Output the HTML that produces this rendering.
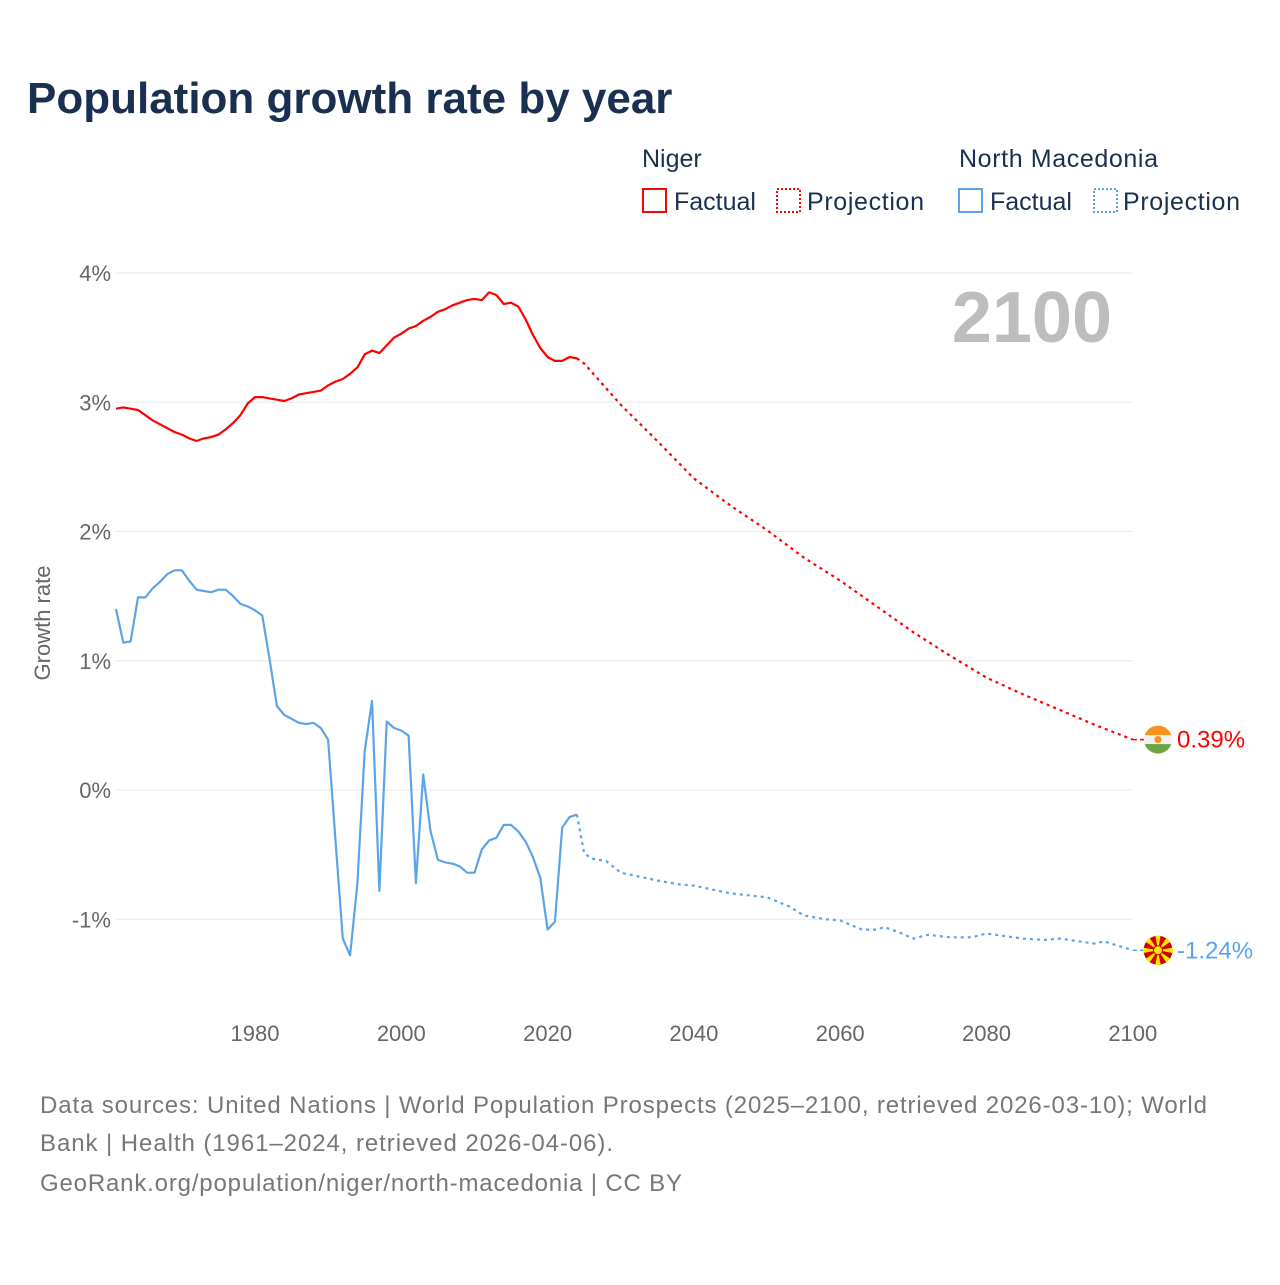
<!DOCTYPE html>
<html><head><meta charset="utf-8"><style>
body{margin:0;background:#fff;width:1280px;height:1280px;overflow:hidden;font-family:"Liberation Sans",sans-serif}
</style></head><body>
<svg width="1280" height="1280" xmlns="http://www.w3.org/2000/svg" id="svg" font-family="Liberation Sans, sans-serif">
<text x="27" y="113" font-size="44" font-weight="bold" fill="#1b3050">Population growth rate by year</text>
<g font-size="25" fill="#1b3050">
<text x="642" y="167">Niger</text>
<text x="959" y="167" textLength="199">North Macedonia</text>
<rect x="643" y="189" width="23" height="23" fill="none" stroke="#ff0000" stroke-width="2"/>
<text x="674" y="210">Factual</text>
<rect x="777" y="189" width="23" height="23" fill="none" stroke="#ff0000" stroke-width="2" stroke-dasharray="2,2"/>
<text x="807" y="210" textLength="117">Projection</text>
<rect x="959" y="189" width="23" height="23" fill="none" stroke="#5ba4e8" stroke-width="2"/>
<text x="990" y="210">Factual</text>
<rect x="1094" y="189" width="23" height="23" fill="none" stroke="#5ba4e8" stroke-width="2" stroke-dasharray="2,2"/>
<text x="1123" y="210" textLength="117">Projection</text>
</g>
<text x="1112" y="342" font-size="72" font-weight="bold" fill="#bdbdbd" text-anchor="end">2100</text>
<text transform="translate(50,623) rotate(-90)" font-size="22" fill="#666" text-anchor="middle">Growth rate</text>
<g id="grid"></g><g id="marks"></g>
<g font-size="24" fill="#777">
<text x="40" y="1113" textLength="1167">Data sources: United Nations | World Population Prospects (2025–2100, retrieved 2026-03-10); World</text>
<text x="40" y="1151" textLength="573">Bank | Health (1961–2024, retrieved 2026-04-06).</text>
<text x="40" y="1191" textLength="642">GeoRank.org/population/niger/north-macedonia | CC BY</text>
</g>
</svg>
<script>
const yTicks=[4,3,2,1,0,-1];
const yTickLabels=["4%","3%","2%","1%","0%","-1%"];
const xTicks=[1980,2000,2020,2040,2060,2080,2100];
const nigerFactualYears=[];for(let y=1961;y<=2024;y++)nigerFactualYears.push(y);
const nigerFactual=[2.95,2.96,2.95,2.94,2.90,2.86,2.83,2.80,2.77,2.75,2.72,2.70,2.72,2.73,2.75,2.79,2.84,2.90,2.99,3.04,3.04,3.03,3.02,3.01,3.03,3.06,3.07,3.08,3.09,3.13,3.16,3.18,3.22,3.27,3.37,3.40,3.38,3.44,3.50,3.53,3.57,3.59,3.63,3.66,3.70,3.72,3.75,3.77,3.79,3.80,3.79,3.85,3.83,3.76,3.77,3.74,3.64,3.52,3.42,3.35,3.32,3.32,3.35,3.34];
const nigerProjYears=[2024,2025,2030,2035,2040,2045,2050,2055,2060,2065,2070,2075,2080,2085,2090,2095,2100];
const nigerProj=[3.34,3.30,2.98,2.70,2.41,2.20,2.01,1.80,1.62,1.42,1.22,1.04,0.87,0.74,0.62,0.50,0.39];
const mkFactualYears=nigerFactualYears;
const mkFactual=[1.40,1.14,1.15,1.49,1.49,1.56,1.61,1.67,1.70,1.70,1.62,1.55,1.54,1.53,1.55,1.55,1.50,1.44,1.42,1.39,1.35,1.01,0.65,0.58,0.55,0.52,0.51,0.52,0.48,0.39,-0.39,-1.15,-1.28,-0.72,0.30,0.69,-0.78,0.53,0.48,0.46,0.42,-0.72,0.12,-0.32,-0.54,-0.56,-0.57,-0.59,-0.64,-0.64,-0.46,-0.39,-0.37,-0.27,-0.27,-0.32,-0.40,-0.52,-0.68,-1.08,-1.02,-0.29,-0.21,-0.19];
const mkProjYears=[2024,2025,2026,2028,2030,2035,2038,2040,2045,2050,2053,2055,2058,2060,2063,2065,2066,2068,2070,2072,2075,2078,2080,2085,2088,2090,2095,2096,2100];
const mkProj=[-0.19,-0.49,-0.53,-0.55,-0.64,-0.70,-0.73,-0.74,-0.80,-0.83,-0.90,-0.97,-1.00,-1.01,-1.08,-1.08,-1.06,-1.10,-1.15,-1.12,-1.14,-1.14,-1.11,-1.15,-1.16,-1.15,-1.19,-1.17,-1.24];
const NS="http://www.w3.org/2000/svg";
const X=y=>255+(y-1980)*7.315;
const Y=v=>790-v*129.25;
const grid=document.getElementById('grid'),marks=document.getElementById('marks');
function mk(tag,attrs,parent){const e=document.createElementNS(NS,tag);for(const k in attrs)e.setAttribute(k,attrs[k]);parent.appendChild(e);return e;}
yTicks.forEach((t,i)=>{
 const l=mk('line',{x1:115,x2:1133,y1:Y(t),y2:Y(t),stroke:'#e8e8e8','stroke-width':1},grid);
 
 
 const tx=mk('text',{x:111,y:Y(t)+8,'font-size':22,fill:'#666','text-anchor':'end'},grid);
 tx.textContent=yTickLabels[i];
 
 
});
xTicks.forEach(t=>{
 const tx=mk('text',{x:X(t),y:1041,'font-size':22,fill:'#666','text-anchor':'middle'},grid);
 tx.textContent=t;
 
 
});
function line(xs,vs,color,dash,name){
 const d=xs.map((x,i)=>(i?'L':'M')+X(x).toFixed(1)+','+Y(vs[i]).toFixed(1)).join('');
 const p=mk('path',{d:d,fill:'none',stroke:color,'stroke-width':2.2,'stroke-linejoin':'round'},marks);
 if(dash)p.setAttribute('stroke-dasharray',dash);
 
 
}
line(nigerFactualYears,nigerFactual,'#ff0000',null,'niger-factual-line');
line(nigerProjYears,nigerProj,'#ff0000','3,4','niger-projection-line');
line(mkFactualYears,mkFactual,'#5ba4e8',null,'mk-factual-line');
line(mkProjYears,mkProj,'#5ba4e8','3,4','mk-projection-line');
const nEnd=nigerProj[nigerProj.length-1],mEnd=mkProj[mkProj.length-1];
const c1=mk('line',{x1:1133,x2:1144,y1:Y(nEnd),y2:Y(nEnd),stroke:'#ff0000','stroke-width':1.5,'stroke-dasharray':'4,3'},marks);


const c2=mk('line',{x1:1133,x2:1143,y1:Y(mEnd),y2:Y(mEnd),stroke:'#5ba4e8','stroke-width':1.5,'stroke-dasharray':'4,3'},marks);


const fy=Y(nEnd),fx=1158;
const g1=mk('g',{},marks);


const cp=mk('clipPath',{id:'cn'},g1);
mk('circle',{cx:fx,cy:fy,r:14},cp);
const gg=mk('g',{'clip-path':'url(#cn)'},g1);
mk('rect',{x:fx-14,y:fy-14,width:28,height:10,fill:'#f7921e'},gg);
mk('rect',{x:fx-14,y:fy-4.5,width:28,height:9,fill:'#f0f0f0'},gg);
mk('rect',{x:fx-14,y:fy+4.5,width:28,height:10,fill:'#6aa644'},gg);
mk('circle',{cx:fx,cy:fy,r:3.6,fill:'#f7921e'},gg);
const t1=mk('text',{x:1177,y:fy+8,'font-size':24,fill:'#ff0000'},marks);
t1.textContent=nEnd.toFixed(2)+'%';


const my=Y(mEnd);
const g2=mk('g',{},marks);


mk('circle',{cx:fx,cy:my,r:14.5,fill:'#d20000'},g2);
for(let i=0;i<8;i++){const a=i*Math.PI/4;const a1=a-0.18,a2=a+0.18;
 mk('polygon',{points:`${fx},${my} ${fx+15*Math.cos(a1)},${my+15*Math.sin(a1)} ${fx+15*Math.cos(a2)},${my+15*Math.sin(a2)}`,fill:'#ffe600'},g2);}
mk('circle',{cx:fx,cy:my,r:4.5,fill:'#ffe600',stroke:'#d20000','stroke-width':1},g2);
const t2=mk('text',{x:1177,y:my+8,'font-size':24,fill:'#5ba4e8'},marks);
t2.textContent=mEnd.toFixed(2)+'%';


</script>
</body></html>
